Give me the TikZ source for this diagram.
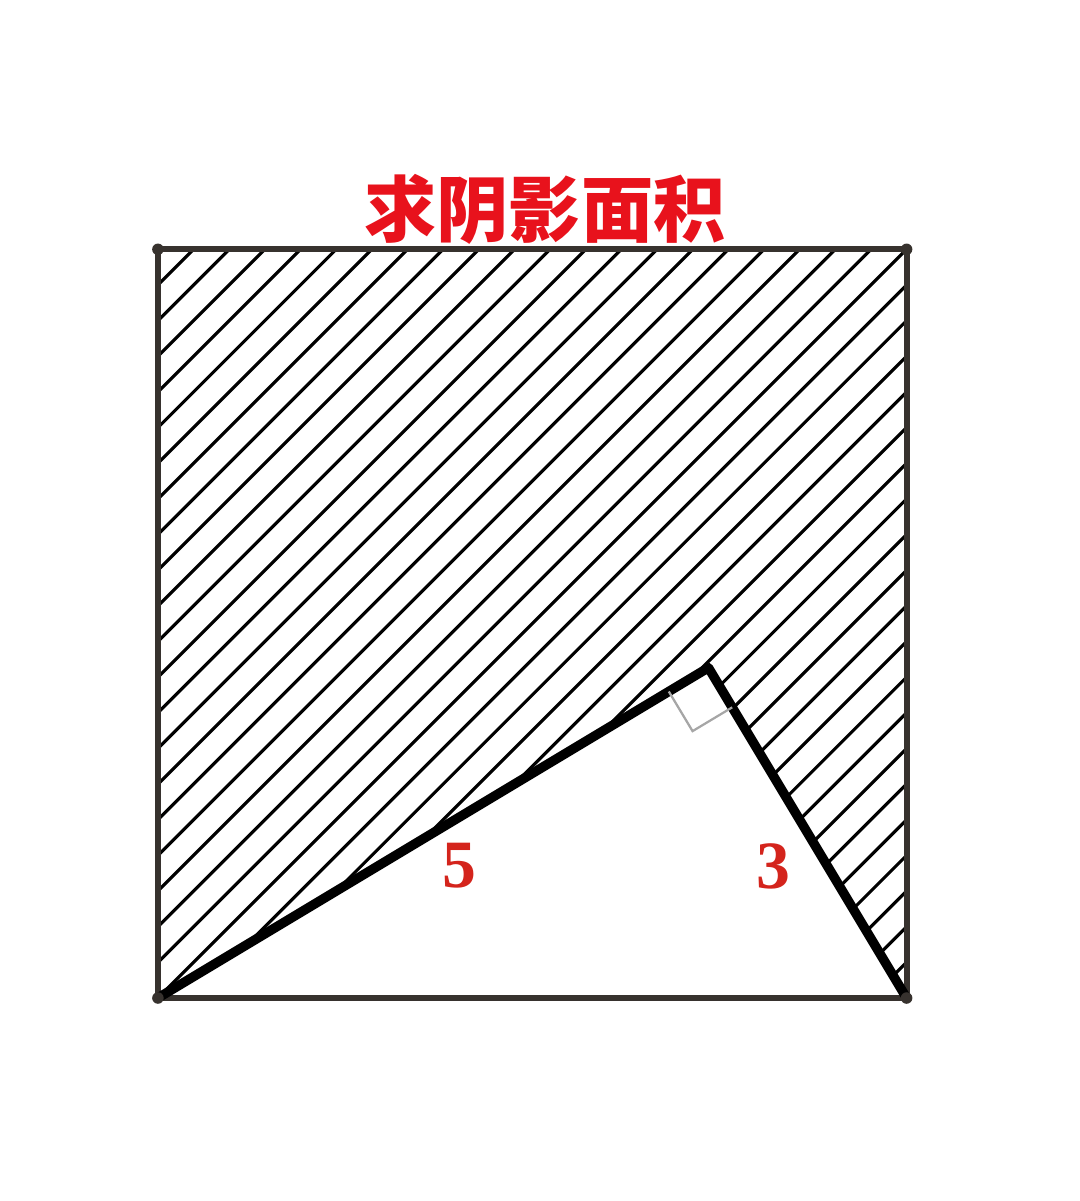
\documentclass[tikz,border=0pt]{standalone}
\usepackage{fontspec}
\usetikzlibrary{calc}
\newfontfamily\cjk{Noto Sans CJK SC}
\newfontfamily\numfont{Liberation Serif}
\definecolor{titlered}{RGB}{232,18,28}
\definecolor{labelred}{RGB}{212,36,28}
\definecolor{edgegray}{RGB}{55,50,46}
\begin{document}
\begin{tikzpicture}[scale=1]

    % Fix the page to the reference proportions
    \useasboundingbox (-1.230,-1.581) rectangle (7.181,7.773);

    % Side of the square = hypotenuse of the triangle with legs 5 and 3
    \pgfmathsetmacro{\side}{sqrt(34)}
    \pgfmathsetmacro{\gap}{\side/21}

    % D is the bottom-left corner, C the bottom-right corner
    \coordinate (D) at (0, 0);
    \coordinate (C) at (\side, 0);
    % B is the top-right corner, A the top-left corner
    \coordinate (B) at (\side, \side);
    \coordinate (A) at (0, \side);

    % E is the right-angle vertex of the triangle
    \coordinate (E) at ({25/\side}, {15/\side});

    % Hatch the shaded part: the square without the triangle DEC
    \begin{scope}
        \clip (D) -- (E) -- (C) -- (B) -- (A) -- cycle;
        \foreach \k in {1,...,41} {
            \draw[line width=0.7pt] (-1, {-1+\side-\k*\gap}) -- (8, {8+\side-\k*\gap});
        }
    \end{scope}

    % Draw the four sides of the square
    \draw[line width=1.3pt, edgegray] (A) -- (B) -- (C) -- (D) -- cycle;

    % Draw the two legs of the triangle
    \draw[line width=2.1pt, line join=round, line cap=round] (D) -- (E) -- (C);

    % Small dots at the corners of the square
    \foreach \p in {A,B,C,D} {
        \fill[edgegray] (\p) circle (0.045);
    }

    % Right-angle mark at E
    \coordinate (P) at ($(E)!0.36cm!(D)$);
    \coordinate (Q) at ($(E)!0.36cm!(C)$);
    \draw[gray!70, line width=0.5pt] (P) -- ($(P)+(Q)-(E)$) -- (Q);

    % Title above the square
    \node[text=titlered, font=\cjk\bfseries\fontsize{16}{18}\selectfont] (title) at (3.014, 6.145) {求阴影面积};

    % Lengths of the two legs
    \node[text=labelred, font=\numfont\bfseries\fontsize{15}{17}\selectfont] (five) at (2.352, 1.028) {5};
    \node[text=labelred, font=\numfont\bfseries\fontsize{15}{17}\selectfont] (three) at (4.790, 1.028) {3};

\end{tikzpicture}
\end{document}
